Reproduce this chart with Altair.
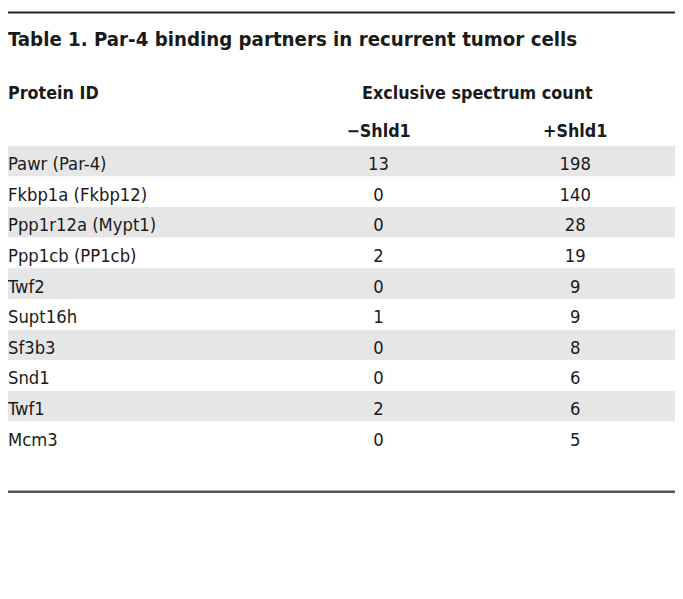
import altair as alt
import pandas as pd

title_text = ["Table 1. Par-4 binding partners in recurrent tumor cells"]
protein_header = ["Protein ID"]
group_header = ["Exclusive spectrum count"]
conditions = ["\u2212Shld1", "+Shld1"]
proteins = ["Pawr (Par-4)", "Fkbp1a (Fkbp12)", "Ppp1r12a (Mypt1)", "Ppp1cb (PP1cb)",
            "Twf2", "Supt16h", "Sf3b3", "Snd1", "Twf1", "Mcm3"]
minus_shld1 = [13, 0, 0, 2, 0, 1, 0, 0, 2, 0]
plus_shld1 = [198, 140, 28, 19, 9, 9, 8, 6, 6, 5]

W, H = 675, 583
FONT = "Liberation Sans Narrow, DejaVu Sans Condensed, Roboto Condensed, Arial Narrow, sans-serif"
TXT = "#1a1a1a"
BODY = 18.5
HDR = 18

rows = pd.DataFrame({"protein": proteins, "idx": list(range(len(proteins)))})
rows["shade"] = ["gray" if i % 2 == 0 else "white" for i in rows["idx"]]
vals = pd.DataFrame({
    "protein": proteins * 2,
    "cond": [conditions[0]] * len(proteins) + [conditions[1]] * len(proteins),
    "count": minus_shld1 + plus_shld1,
})

yscale = alt.Scale(domain=proteins, range=[136, 446], paddingInner=0, paddingOuter=0)
xscale = alt.Scale(type="point", domain=conditions, range=[375, 574], padding=0)

bands = alt.Chart(rows).mark_rect().encode(
    y=alt.Y("protein:N", scale=yscale, axis=None),
    x=alt.value(0), x2=alt.value(W),
    color=alt.Color("shade:N", scale=alt.Scale(domain=["gray", "white"], range=["#e6e6e6", "#ffffff"]), legend=None),
)

names = alt.Chart(rows).mark_text(align="left", baseline="alphabetic", dy=9, fontSize=BODY, font=FONT, color=TXT).encode(
    y=alt.Y("protein:N", scale=yscale, axis=None),
    x=alt.value(0),
    text="protein:N",
)

numbers = alt.Chart(vals).mark_text(align="center", baseline="alphabetic", dy=9, fontSize=BODY, font=FONT, color=TXT).encode(
    y=alt.Y("protein:N", scale=yscale, axis=None),
    x=alt.X("cond:N", scale=xscale, axis=None),
    text="count:Q",
)

cond_hdr = alt.Chart(pd.DataFrame({"cond": conditions})).mark_text(
    align="center", baseline="alphabetic", fontSize=HDR, fontWeight="bold", font=FONT, color=TXT
).encode(
    x=alt.X("cond:N", scale=xscale, axis=None),
    y=alt.value(127),
    text="cond:N",
)

title = alt.Chart(pd.DataFrame({"t": title_text})).mark_text(
    align="left", baseline="alphabetic", fontSize=20.5, fontWeight="bold", font=FONT, color=TXT
).encode(x=alt.value(0), y=alt.value(35), text="t:N")

phdr = alt.Chart(pd.DataFrame({"t": protein_header})).mark_text(
    align="left", baseline="alphabetic", fontSize=HDR, fontWeight="bold", font=FONT, color=TXT
).encode(x=alt.value(0), y=alt.value(89), text="t:N")

ghdr = alt.Chart(pd.DataFrame({"t": group_header})).mark_text(
    align="center", baseline="alphabetic", fontSize=HDR, fontWeight="bold", font=FONT, color=TXT
).encode(x=alt.value(475), y=alt.value(89), text="t:N")

top_rule = alt.Chart(pd.DataFrame({"a": [0]})).mark_rule(color="#222222", strokeWidth=2).encode(
    x=alt.value(0), x2=alt.value(W), y=alt.value(1)
)
bottom_rule = alt.Chart(pd.DataFrame({"a": [0]})).mark_rule(color="#555555", strokeWidth=2.5).encode(
    x=alt.value(0), x2=alt.value(W), y=alt.value(486)
)

chart = alt.layer(bands, names, numbers, cond_hdr, title, phdr, ghdr, top_rule, bottom_rule).resolve_scale(
    color="independent"
).properties(
    width=W, height=H, padding=0, autosize=alt.AutoSizeParams(type="none")
).configure_view(stroke=None)

chart.save("out.html", embed_options={"renderer": "svg", "actions": False})
